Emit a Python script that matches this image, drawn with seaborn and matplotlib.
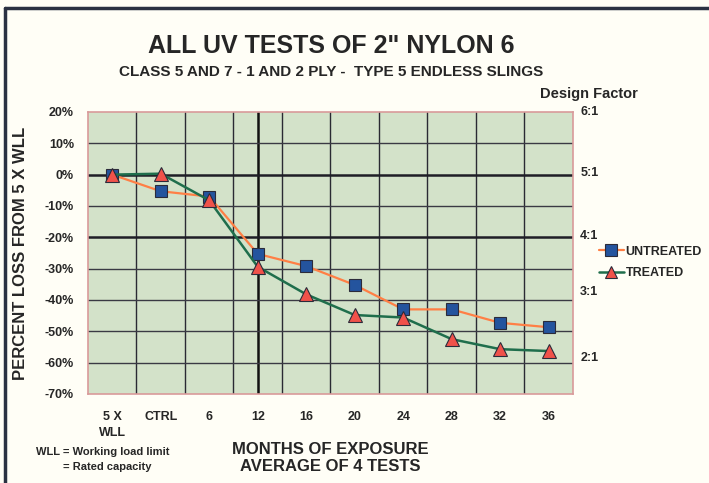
import matplotlib
matplotlib.use("Agg")
import matplotlib.pyplot as plt
from matplotlib.lines import Line2D
import seaborn as sns
import pandas as pd

# Exposure categories and average percent loss from 5 x WLL
categories = ["5 X\nWLL", "CTRL", "6", "12", "16", "20", "24", "28", "32", "36"]
untreated = [0.0, -5.3, -7.0, -25.3, -29.2, -35.2, -43.0, -43.0, -47.3, -48.7]
treated = [0.0, 0.3, -8.2, -29.4, -38.2, -44.8, -45.6, -52.5, -55.7, -56.3]
y_ticks = [20, 10, 0, -10, -20, -30, -40, -50, -60, -70]
design_factors = ["6:1", "5:1", "4:1", "3:1", "2:1"]
design_pos = [20, 0.5, -19.5, -37.5, -58.5]

sns.set_style("white")
plt.rcParams["font.family"] = ["Liberation Sans", "DejaVu Sans"]

df = pd.DataFrame({
    "month": categories * 2,
    "loss": untreated + treated,
    "series": ["UNTREATED"] * len(categories) + ["TREATED"] * len(categories),
})

fig = plt.figure(figsize=(7.09, 4.83), dpi=100, facecolor="#fffef6")
ax = fig.add_axes([0.1241, 0.1843, 0.684, 0.5839])
ax.set_facecolor("#d3e2c9")

line_untreated = "#ff7f45"
line_treated = "#1f6e4c"
face_square = "#24549e"
face_tri = "#f0524a"
edge = "#2b2b3a"

sub_u = df[df["series"] == "UNTREATED"]
sub_t = df[df["series"] == "TREATED"]
sns.lineplot(data=sub_u, x="month", y="loss", ax=ax, color=line_untreated, lw=1.6,
             marker="s", markersize=8, markerfacecolor=face_square,
             markeredgecolor=edge, markeredgewidth=0.8, sort=False, zorder=4)
sns.lineplot(data=sub_t, x="month", y="loss", ax=ax, color=line_treated, lw=1.8,
             marker="^", markersize=10, markerfacecolor=face_tri,
             markeredgecolor=edge, markeredgewidth=0.8, sort=False, zorder=5)

ax.set_xlim(-0.5, len(categories) - 0.5)
ax.set_ylim(-70, 20)

# grid: category boundaries, a heavy marker line at 12 months
for b in range(1, len(categories)):
    ax.axvline(b - 0.5, color="#2a2a33", lw=1.0, zorder=1)
ax.axvline(3, color="#111111", lw=1.8, zorder=1)
for v in y_ticks[1:-1]:
    heavy = v in (0, -20)
    ax.axhline(v, color="#1e1e26" if heavy else "#3a3a44", lw=1.8 if heavy else 1.0, zorder=1)

for s in ax.spines.values():
    s.set_color("#d99a9a")
    s.set_linewidth(1.2)

ax.set_yticks(y_ticks)
ax.set_yticklabels([f"{v}%" for v in y_ticks], fontsize=9, fontweight="bold")
ax.set_xticks(range(len(categories)))
ax.set_xticklabels(categories, fontsize=9, fontweight="bold", linespacing=1.5)
ax.tick_params(axis="both", length=0)
ax.tick_params(axis="x", pad=12)
ax.tick_params(axis="y", pad=10)
ax.set_xlabel("MONTHS OF EXPOSURE\nAVERAGE OF 4 TESTS", fontsize=12, fontweight="bold",
              linespacing=1.1)
ax.xaxis.set_label_coords(0.5, -0.172)
ax.set_ylabel("PERCENT LOSS FROM 5 X WLL", fontsize=12, fontweight="bold", labelpad=12)

# design factor scale on the right
for lab, pos in zip(design_factors, design_pos):
    ax.text(1.015, pos, lab, transform=ax.get_yaxis_transform(), fontsize=9,
            fontweight="bold", va="center", ha="left")
fig.text(0.831, 0.805, "Design Factor", fontsize=10.5, fontweight="bold", ha="center", va="center")

handles = [
    Line2D([], [], color=line_untreated, lw=1.6, marker="s", markersize=8,
           markerfacecolor=face_square, markeredgecolor=edge, markeredgewidth=0.8),
    Line2D([], [], color=line_treated, lw=1.8, marker="^", markersize=9,
           markerfacecolor=face_tri, markeredgecolor=edge, markeredgewidth=0.8),
]
fig.legend(handles, ["UNTREATED", "TREATED"], loc="center left",
           bbox_to_anchor=(0.841, 0.4565), frameon=False, handlelength=2.0,
           handletextpad=0.15, labelspacing=0.75, borderpad=0.2, borderaxespad=0,
           prop={"weight": "bold", "size": 9})

fig.text(0.4675, 0.905, "ALL UV TESTS OF 2\" NYLON 6", fontsize=18, fontweight="bold",
         ha="center", va="center")
fig.text(0.4675, 0.851, "CLASS 5 AND 7 - 1 AND 2 PLY -  TYPE 5 ENDLESS SLINGS", fontsize=11,
         fontweight="bold", ha="center", va="center")

fig.text(36 / 709, 1 - 452 / 483, "WLL = Working load limit", fontsize=8, fontweight="bold",
         va="center")
fig.text(63 / 709, 1 - 467 / 483, "= Rated capacity", fontsize=8, fontweight="bold", va="center")

# outer frame along the top and left edges
fig.add_artist(Line2D([5 / 709, 5 / 709], [0, 1 - 8 / 483], transform=fig.transFigure,
                      color="#2a3142", lw=2.5))
fig.add_artist(Line2D([5 / 709, 1], [1 - 8 / 483, 1 - 8 / 483], transform=fig.transFigure,
                      color="#2a3142", lw=2.5))

fig.savefig("out.png", dpi=100, facecolor=fig.get_facecolor())
